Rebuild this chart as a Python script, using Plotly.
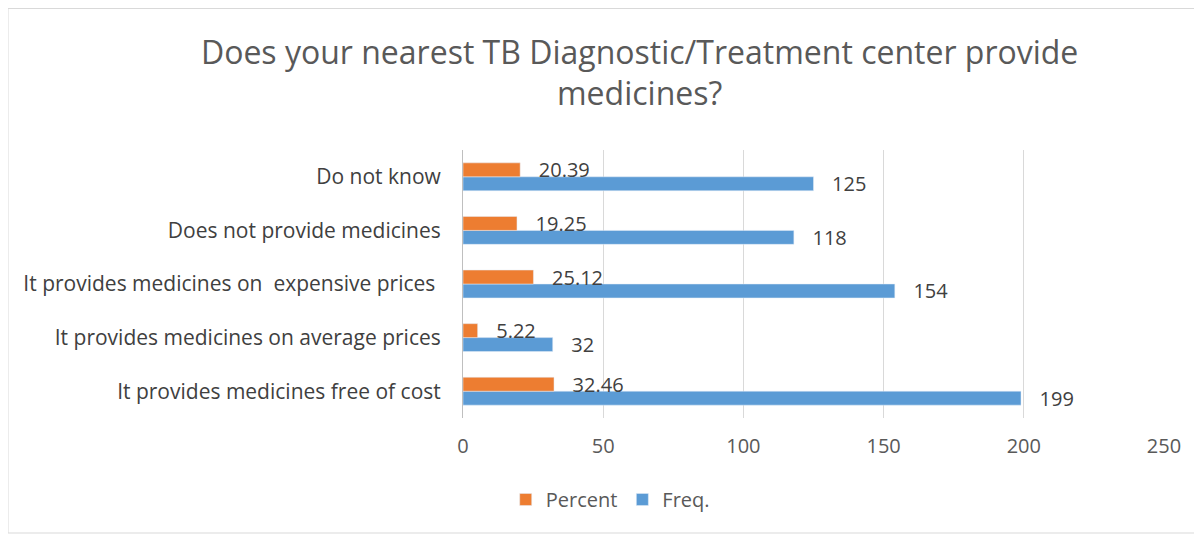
import plotly.graph_objects as go

# categories listed bottom -> top
categories = [
    "It provides medicines free of cost",
    "It provides medicines on average prices",
    "It provides medicines on  expensive prices ",
    "Does not provide medicines",
    "Do not know",
]
freq = [199, 32, 154, 118, 125]
percent = [32.46, 5.22, 25.12, 19.25, 20.39]
x_ticks = [0, 50, 100, 150, 200, 250]

FONT = "Open Sans"
TEXT = "#404040"
GREY = "#595959"

# the page adds an 8px body margin, so the figure is 8px smaller than the window
W, H = 1194, 529
L, T, R, B = 455, 142, 38, 119

fig = go.Figure()
fig.add_trace(go.Bar(
    y=categories, x=freq, name="Freq.", orientation="h",
    marker=dict(color="#5B9BD5"),
    texttemplate="   %{x}", textposition="outside", cliponaxis=False,
    constraintext="none",
    textfont=dict(size=20, color=TEXT, family=FONT),
))
fig.add_trace(go.Bar(
    y=categories, x=percent, name="Percent", orientation="h",
    marker=dict(color="#ED7D31"),
    texttemplate="   %{x}", textposition="outside", cliponaxis=False,
    constraintext="none",
    textfont=dict(size=20, color=TEXT, family=FONT),
))

pw = W - L - R
ph = H - T - B
fig.update_layout(
    width=W, height=H,
    margin=dict(l=L, r=R, t=T, b=B, autoexpand=False),
    paper_bgcolor="white", plot_bgcolor="white",
    font=dict(family=FONT, color=GREY, size=20),
    barmode="group", bargap=0.48, bargroupgap=0,
    title=dict(
        text="Does your nearest TB Diagnostic/Treatment center provide<br>medicines?",
        x=0.529, xanchor="center", xref="container",
        y=0.895, yanchor="top", yref="container",
        font=dict(size=32, color=GREY, family=FONT),
    ),
    xaxis=dict(
        range=[0, 250], tickvals=x_ticks, showgrid=True, gridcolor="#D9D9D9",
        gridwidth=1, zeroline=False, showline=False, ticks="",
        tickfont=dict(size=20, color=GREY), ticklabelstandoff=14,
    ),
    yaxis=dict(
        showline=True, linecolor="#BFBFBF", ticks="", showgrid=False,
        tickfont=dict(size=21, color=TEXT), ticklabelstandoff=17,
    ),
    legend=dict(
        orientation="h", traceorder="reversed",
        x=0.21, xanchor="center", y=-0.304, yanchor="middle",
        font=dict(size=20, color=GREY), itemwidth=30,
    ),
    shapes=[dict(
        type="rect", xref="paper", yref="paper",
        x0=-L / pw, x1=(W - L - 1) / pw, y0=-(H - T - ph - 4) / ph,
        y1=1 + (T - 0.5) / ph,
        line=dict(color="#D9D9D9", width=1), fillcolor="rgba(0,0,0,0)",
        layer="below",
    )],
)

fig.write_html("out.html")
